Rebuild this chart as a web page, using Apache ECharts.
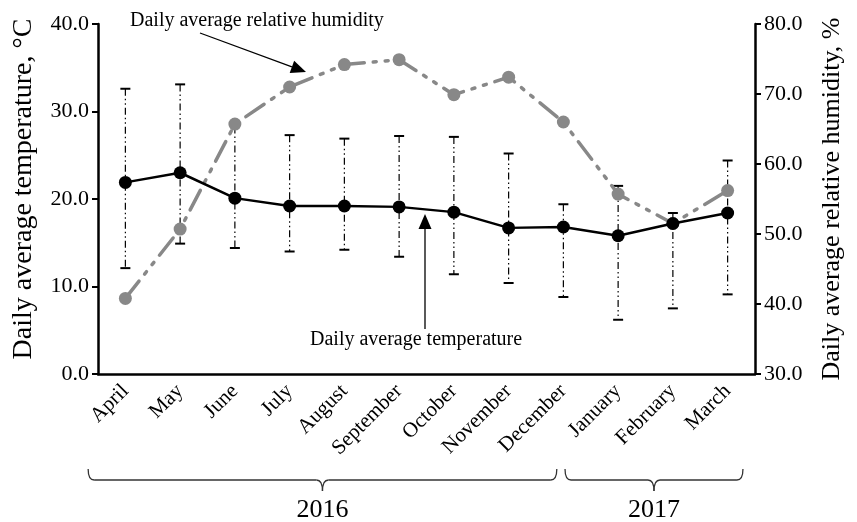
<!DOCTYPE html>
<html>
<head>
<meta charset="utf-8">
<script src="https://cdn.jsdelivr.net/npm/echarts@6/dist/echarts.min.js"></script>
<style>
  html, body { margin: 0; padding: 0; background: #fff; }
  #chart { width: 857px; height: 522px; }
</style>
</head>
<body>
<div id="chart"></div>
<script>
const months = ['April', 'May', 'June', 'July', 'August', 'September', 'October',
    'November', 'December', 'January', 'February', 'March'];
const tempAvg = [21.9, 23.0, 20.1, 19.2, 19.2, 19.1, 18.5, 16.7, 16.8, 15.8, 17.2, 18.4];
const tempMax = [32.6, 33.1, 28.3, 27.3, 26.9, 27.2, 27.1, 25.2, 19.4, 21.5, 18.4, 24.4];
const tempMin = [12.1, 14.9, 14.4, 14.0, 14.2, 13.4, 11.4, 10.4, 8.8, 6.2, 7.5, 9.1];
const humidity = [40.8, 50.7, 65.7, 71.0, 74.2, 74.9, 69.9, 72.4, 66.0, 55.7, 51.5, 56.2];
// brace ends are given as fractional month positions
const years = [
    { label: '2016', from: -0.68, to: 7.88 },
    { label: '2017', from: 8.03, to: 11.28 }
];

const font = 'Liberation Serif';
const chartElement = document.getElementById('chart');
const chart = echarts.init(chartElement);

const errorData = months.map((m, i) => [i, tempMin[i], tempMax[i]]);

function renderErrorBar(params, api) {
    const idx = api.value(0);
    const low = api.coord([idx, api.value(1)]);
    const high = api.coord([idx, api.value(2)]);
    const half = 5;
    const style = { stroke: '#000', lineWidth: 1.2, lineDash: [7, 3, 1.5, 3, 1.5, 3] };
    const capStyle = { stroke: '#000', lineWidth: 2 };
    return {
        type: 'group',
        children: [
            { type: 'line', shape: { x1: high[0], y1: high[1], x2: low[0], y2: low[1] }, style: style },
            { type: 'line', shape: { x1: high[0] - half, y1: high[1], x2: high[0] + half, y2: high[1] }, style: capStyle },
            { type: 'line', shape: { x1: low[0] - half, y1: low[1], x2: low[0] + half, y2: low[1] }, style: capStyle }
        ]
    };
}

const option = {
    animation: false,
    backgroundColor: '#fff',
    textStyle: { fontFamily: font, color: '#000' },
    grid: { left: 98, right: 102, top: 24, bottom: 148 },
    xAxis: {
        type: 'category',
        data: months,
        boundaryGap: true,
        axisLine: { lineStyle: { color: '#000', width: 2.5 } },
        axisTick: { show: false },
        axisLabel: { rotate: 45, fontSize: 21, color: '#000', fontFamily: font, margin: 14 }
    },
    yAxis: [
        {
            type: 'value',
            min: 0, max: 40, interval: 10,
            name: 'Daily average temperature, °C',
            nameLocation: 'middle',
            nameRotate: 90,
            nameGap: 60,
            nameTextStyle: { fontSize: 28, color: '#000', fontFamily: font, padding: [0, 0, 0, 20] },
            axisLine: { show: true, lineStyle: { color: '#000', width: 2.5 } },
            axisTick: { show: true, length: 6, lineStyle: { color: '#000', width: 2 } },
            axisLabel: { fontSize: 22, color: '#000', fontFamily: font, margin: 9,
                formatter: v => v.toFixed(1) },
            splitLine: { show: false }
        },
        {
            type: 'value',
            min: 30, max: 80, interval: 10,
            position: 'right',
            name: 'Daily average relative humidity, %',
            nameLocation: 'middle',
            nameRotate: 90,
            nameGap: 64,
            nameTextStyle: { fontSize: 26, color: '#000', fontFamily: font },
            axisLine: { show: true, lineStyle: { color: '#000', width: 2.5 } },
            axisTick: { show: true, length: 6, lineStyle: { color: '#000', width: 2 } },
            axisLabel: { fontSize: 22, color: '#000', fontFamily: font, margin: 9,
                formatter: v => v.toFixed(1) },
            splitLine: { show: false }
        }
    ],
    series: [
        {
            type: 'custom',
            name: 'range',
            yAxisIndex: 0,
            renderItem: renderErrorBar,
            data: errorData,
            z: 1
        },
        {
            type: 'line',
            name: 'Daily average relative humidity',
            yAxisIndex: 1,
            data: humidity,
            symbol: 'circle',
            symbolSize: 13,
            itemStyle: { color: '#888' },
            lineStyle: { color: '#888', width: 3.5, type: [22, 9, 3, 9, 3, 9], cap: 'round' },
            z: 2
        },
        {
            type: 'line',
            name: 'Daily average temperature',
            yAxisIndex: 0,
            data: tempAvg,
            symbol: 'circle',
            symbolSize: 13,
            itemStyle: { color: '#000' },
            lineStyle: { color: '#000', width: 2.5 },
            z: 3
        }
    ]
};

chart.setOption(option);

function arrow(x1, y1, x2, y2) {
    const ang = Math.atan2(y2 - y1, x2 - x1);
    const len = 15, w = 6.5;
    const bx = x2 - len * Math.cos(ang), by = y2 - len * Math.sin(ang);
    const px = -Math.sin(ang) * w, py = Math.cos(ang) * w;
    return [
        { type: 'line', shape: { x1: x1, y1: y1, x2: bx, y2: by }, style: { stroke: '#000', lineWidth: 1.3 } },
        { type: 'polygon', shape: { points: [[x2, y2], [bx + px, by + py], [bx - px, by - py]] }, style: { fill: '#000' } }
    ];
}

// curly brace under a range of months
function brace(xa, xb, y) {
    const mid = (xa + xb) / 2;
    const d = 11, r = 6;
    const st = { stroke: '#333', lineWidth: 1.3, fill: null };
    const curve = (x1, y1, cx, cy, x2, y2) => ({
        type: 'bezierCurve', shape: { x1: x1, y1: y1, x2: x2, y2: y2, cpx1: cx, cpy1: cy }, style: st
    });
    return {
        type: 'group',
        children: [
            curve(xa, y, xa, y + d, xa + r, y + d),
            { type: 'line', shape: { x1: xa + r, y1: y + d, x2: mid - r, y2: y + d }, style: st },
            curve(mid - r, y + d, mid, y + d, mid, y + 2 * d),
            curve(mid, y + 2 * d, mid, y + d, mid + r, y + d),
            { type: 'line', shape: { x1: mid + r, y1: y + d, x2: xb - r, y2: y + d }, style: st },
            curve(xb - r, y + d, xb, y + d, xb, y)
        ]
    };
}

const x0 = chart.convertToPixel({ xAxisIndex: 0 }, 0);
const step = chart.convertToPixel({ xAxisIndex: 0 }, 1) - x0;
const graphics = [];
years.forEach(y => {
    const xa = x0 + y.from * step;
    const xb = x0 + y.to * step;
    graphics.push(brace(xa, xb, 469));
    graphics.push({
        type: 'text',
        x: (xa + xb) / 2, y: 510,
        style: { text: y.label, fontSize: 26, fontFamily: font, fill: '#000', align: 'center', verticalAlign: 'middle' }
    });
});

graphics.push({
    type: 'text', x: 130, y: 21,
    style: { text: 'Daily average relative humidity', fontSize: 20, fontFamily: font, fill: '#000', verticalAlign: 'middle' }
});
graphics.push({
    type: 'text', x: 310, y: 340,
    style: { text: 'Daily average temperature', fontSize: 20, fontFamily: font, fill: '#000', verticalAlign: 'middle' }
});
arrow(200, 33, 306, 72).forEach(g => graphics.push(g));
arrow(425, 329, 425, 214).forEach(g => graphics.push(g));

chart.setOption({ graphic: graphics });
</script>
</body>
</html>
